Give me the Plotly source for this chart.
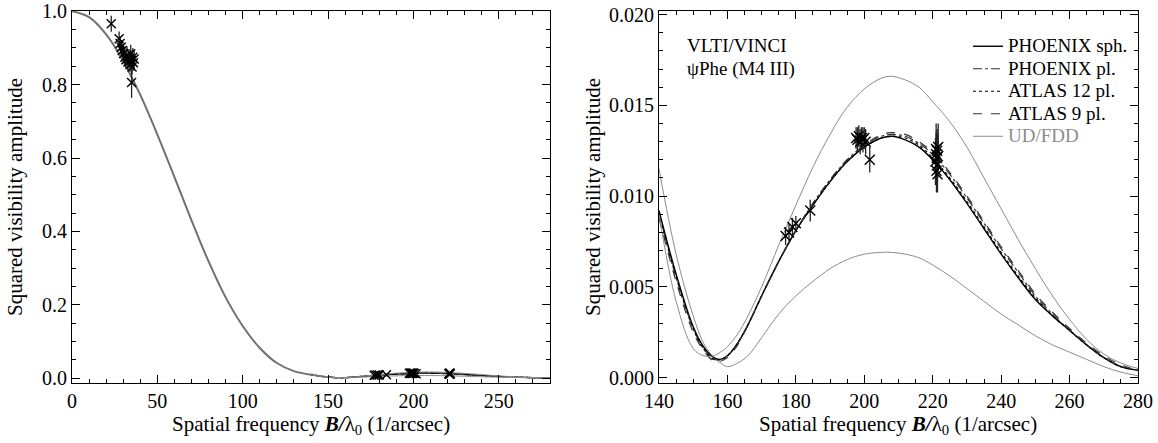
import plotly.graph_objects as go

# ---------------- data ----------------
# main lobe of the visibility curves (all models coincide at this scale)
lobe_freq = [0, 10, 20, 30, 40, 50, 60, 70, 80, 90, 100, 110, 120, 130, 140]
lobe_v2 = [1.000, 0.984, 0.937, 0.864, 0.772, 0.664, 0.548, 0.430, 0.318, 0.220,
           0.142, 0.082, 0.041, 0.019, 0.0092]

# second lobe region
freq = [140, 145, 150, 153, 156, 158, 160, 163, 166, 170, 175, 180, 185, 190, 195, 200,
        205, 208, 212, 216, 220, 225, 230, 235, 240, 245, 250, 255, 260, 265, 270, 275, 280]
phoenix_sph = [0.0092, 0.0057, 0.0028, 0.0017, 0.0011, 0.0010, 0.0012, 0.0019, 0.0029, 0.0045,
               0.0064, 0.0081, 0.0095, 0.0108, 0.0119, 0.0127, 0.0132, 0.0133, 0.0131, 0.0127,
               0.0120, 0.0109, 0.0096, 0.0082, 0.0068, 0.0055, 0.0043, 0.0034, 0.0026, 0.0018,
               0.0011, 0.0006, 0.0004]
phoenix_pl = [0.0090, 0.0055, 0.0027, 0.0016, 0.0010, 0.0010, 0.0012, 0.0019, 0.0029, 0.0045,
              0.0064, 0.0081, 0.0096, 0.0109, 0.0120, 0.0128, 0.0133, 0.0134, 0.0133, 0.0129,
              0.0123, 0.0112, 0.0099, 0.0085, 0.0071, 0.0058, 0.0045, 0.0035, 0.0026, 0.0018,
              0.0011, 0.0006, 0.0004]
atlas12_pl = [0.0091, 0.0056, 0.0027, 0.0016, 0.0010, 0.0010, 0.0012, 0.0019, 0.0029, 0.0045,
              0.0064, 0.0081, 0.0095, 0.0108, 0.0119, 0.0127, 0.0132, 0.0133, 0.0132, 0.0128,
              0.0121, 0.0110, 0.0097, 0.0083, 0.0069, 0.0056, 0.0044, 0.0034, 0.0026, 0.0018,
              0.0011, 0.0006, 0.0004]
atlas9_pl = [0.0088, 0.0053, 0.0025, 0.0015, 0.0009, 0.0009, 0.0011, 0.0018, 0.0029, 0.0045,
             0.0064, 0.0081, 0.0096, 0.0109, 0.0120, 0.0128, 0.0134, 0.0135, 0.0134, 0.0130,
             0.0124, 0.0113, 0.0100, 0.0086, 0.0072, 0.0059, 0.0046, 0.0036, 0.0027, 0.0019,
             0.0012, 0.0007, 0.0004]
ud_v2 = [0.0090, 0.0042, 0.0016, 0.0012, 0.0012, 0.0014, 0.0017, 0.0024, 0.0034, 0.0050,
         0.0073, 0.0095, 0.0116, 0.0134, 0.0149, 0.0159, 0.0165, 0.0166, 0.0164, 0.0160,
         0.0152, 0.0141, 0.0127, 0.0110, 0.0093, 0.0076, 0.0060, 0.0045, 0.0032, 0.0021,
         0.0013, 0.0008, 0.0005]
fdd_v2 = [0.0115, 0.0068, 0.0034, 0.0019, 0.0011, 0.0008, 0.0006, 0.0008, 0.0012, 0.0022,
          0.0035, 0.0045, 0.0053, 0.0060, 0.0065, 0.0068, 0.0069, 0.0069, 0.0068, 0.0066,
          0.0062, 0.0056, 0.0049, 0.0042, 0.0035, 0.0029, 0.0023, 0.0018, 0.0014, 0.0010,
          0.0006, 0.0003, 0.0001]

# measurements, first lobe
obs1_freq = [23.0, 27.6, 28.2, 28.8, 29.4, 30.2, 31.0, 31.6, 32.2, 32.8, 33.4, 34.0,
             34.4, 34.8, 35.2, 35.6, 36.0, 36.4, 34.9]
obs1_v2 = [0.966, 0.925, 0.912, 0.902, 0.893, 0.885, 0.875, 0.868, 0.880, 0.862, 0.872,
           0.855, 0.884, 0.866, 0.848, 0.875, 0.860, 0.870, 0.806]
obs1_err = [0.022, 0.020, 0.020, 0.020, 0.020, 0.022, 0.025, 0.022, 0.025, 0.022, 0.025,
            0.020, 0.025, 0.022, 0.020, 0.025, 0.022, 0.025, 0.042]

# measurements, second lobe
obs2_freq = [177.0, 178.0, 179.0, 180.0, 184.2, 197.6, 198.0, 198.4, 198.8, 199.2, 199.6,
             200.0, 200.4, 201.6, 220.8, 221.0, 221.0, 221.1, 221.2, 221.2, 221.3, 221.4,
             221.5, 221.6]
obs2_v2 = [0.0078, 0.0080, 0.0083, 0.0085, 0.0092, 0.0132, 0.0131, 0.0133, 0.0130, 0.0132,
           0.0131, 0.0132, 0.0130, 0.0120, 0.0119, 0.0123, 0.0126, 0.0114, 0.0121, 0.0117,
           0.0125, 0.0112, 0.0122, 0.0127]
obs2_err = [0.0005, 0.0005, 0.0005, 0.0004, 0.0006, 0.0006, 0.0007, 0.0006, 0.0007, 0.0006,
            0.0007, 0.0006, 0.0007, 0.0007, 0.0013, 0.0012, 0.0014, 0.0012, 0.0013, 0.0011,
            0.0012, 0.0010, 0.0012, 0.0013]

left_xticks = [0, 50, 100, 150, 200, 250]
right_xticks = [140, 160, 180, 200, 220, 240, 260, 280]

# ---------------- figure ----------------
W, H = 1158, 443
FONT = "'Liberation Serif', 'Times New Roman', Times, serif"
TICK_SIZE = 20
TITLE_SIZE = 21
TEXT_SIZE = 19
LEG_SIZE = 15        # sets the legend row pitch
LEG_TEXT_SIZE = 19   # size of the legend labels themselves
fig = go.Figure()

models = [
    ("PHOENIX sph.", phoenix_sph, "black", "solid", 1.4),
    ("PHOENIX pl.", phoenix_pl, "#333333", "dashdot", 1.2),
    ("ATLAS 12 pl.", atlas12_pl, "black", "dot", 1.2),
    ("ATLAS 9 pl.", atlas9_pl, "#333333", "dash", 1.2),
]
GRAY = "#8c8c8c"

def leg_label(text, color="black"):
    return f"<span style='font-size:{LEG_TEXT_SIZE}px;color:{color}'>{text}</span>"

# left panel
fig.add_trace(go.Scatter(x=lobe_freq, y=lobe_v2, mode="lines", line=dict(color="#707070", width=2, shape="spline"),
                         showlegend=False, xaxis="x", yaxis="y", hoverinfo="skip"))
for name, vals, col, dash, w in models:
    fig.add_trace(go.Scatter(x=freq, y=vals, mode="lines", line=dict(color=col, width=w, dash=dash, shape="spline"),
                             showlegend=False, xaxis="x", yaxis="y"))
fig.add_trace(go.Scatter(x=freq, y=ud_v2, mode="lines", line=dict(color=GRAY, width=1, shape="spline"),
                         showlegend=False, xaxis="x", yaxis="y"))
fig.add_trace(go.Scatter(x=freq, y=fdd_v2, mode="lines", line=dict(color=GRAY, width=1, shape="spline"),
                         showlegend=False, xaxis="x", yaxis="y"))
for fx, fy, fe in [(obs1_freq, obs1_v2, obs1_err), (obs2_freq, obs2_v2, obs2_err)]:
    fig.add_trace(go.Scatter(x=fx, y=fy, mode="markers",
                             marker=dict(symbol="x-thin", size=9, line=dict(width=1.4, color="black"), color="black"),
                             error_y=dict(type="data", array=fe, width=0, thickness=1.3, color="#222222"),
                             showlegend=False, xaxis="x", yaxis="y"))

# right panel
fig.add_trace(go.Scatter(x=freq, y=fdd_v2, mode="lines", line=dict(color=GRAY, width=1, shape="spline"),
                         showlegend=False, xaxis="x2", yaxis="y2"))
for name, vals, col, dash, w in models:
    fig.add_trace(go.Scatter(x=freq, y=vals, mode="lines", name=leg_label(name),
                             line=dict(color=col, width=w, dash=dash, shape="spline"),
                             showlegend=True, xaxis="x2", yaxis="y2"))
fig.add_trace(go.Scatter(x=freq, y=ud_v2, mode="lines", name=leg_label("UD/FDD", GRAY),
                         line=dict(color=GRAY, width=1, shape="spline"),
                         showlegend=True, xaxis="x2", yaxis="y2"))
fig.add_trace(go.Scatter(x=obs2_freq, y=obs2_v2, mode="markers",
                         marker=dict(symbol="x-thin", size=10, line=dict(width=1.4, color="black"), color="black"),
                         error_y=dict(type="data", array=obs2_err, width=0, thickness=1.3, color="#222222"),
                         showlegend=False, xaxis="x2", yaxis="y2"))

def px_x(p):
    return p / W

def px_y(p):
    return 1 - p / H

axis_common = dict(showline=True, linecolor="black", linewidth=1, mirror="allticks", ticks="inside",
                   ticklen=8, tickwidth=1, tickcolor="black", showgrid=False, zeroline=False,
                   tickfont=dict(family=FONT, size=TICK_SIZE, color="black"), automargin=False,
                   ticklabeloverflow="allow")

ydom = [px_y(383), px_y(11)]
fig.update_layout(
    width=W, height=H,
    margin=dict(l=0, r=0, t=0, b=0),
    paper_bgcolor="white", plot_bgcolor="white",
    font=dict(family=FONT, size=TICK_SIZE, color="black"),
    xaxis=dict(domain=[px_x(72), px_x(550)], range=[0, 280], tickvals=left_xticks,
               minor=dict(ticks="inside", ticklen=4, dtick=10, tick0=0, tickcolor="black"),
               anchor="y", **axis_common),
    yaxis=dict(domain=ydom, range=[-0.0135, 1.0008], dtick=0.2, tick0=0, tickformat=".1f",
               minor=dict(ticks="inside", ticklen=4, dtick=0.05, tick0=0, tickcolor="black"),
               anchor="x", **axis_common),
    xaxis2=dict(domain=[px_x(659), px_x(1138)], range=[140, 280], tickvals=right_xticks,
                minor=dict(ticks="inside", ticklen=4, dtick=5, tick0=140, tickcolor="black"),
                anchor="y2", **axis_common),
    yaxis2=dict(domain=ydom, range=[-0.0003, 0.0202], dtick=0.005, tick0=0, tickformat=".3f",
                minor=dict(ticks="inside", ticklen=4, dtick=0.001, tick0=0, tickcolor="black"),
                anchor="x2", **axis_common),
    legend=dict(x=px_x(968), xanchor="left", y=px_y(30), yanchor="top",
                bgcolor="rgba(0,0,0,0)", font=dict(family=FONT, size=LEG_SIZE, color="black"),
                itemwidth=30, tracegroupgap=0),
    showlegend=True,
)

xtitle = "Spatial frequency <b><i>B/</i></b>λ<sub>0</sub> (1/arcsec)"
ann = [
    dict(text="Squared visibility amplitude", x=px_x(15), y=px_y(197), textangle=-90),
    dict(text="Squared visibility amplitude", x=px_x(593), y=px_y(197), textangle=-90),
    dict(text=xtitle, x=px_x(311), y=px_y(425)),
    dict(text=xtitle, x=px_x(898), y=px_y(425)),
    dict(text="VLTI/VINCI", x=px_x(685), y=px_y(45), xanchor="left", font=dict(family=FONT, size=TEXT_SIZE)),
    dict(text="ψPhe (M4 III)", x=px_x(685), y=px_y(69), xanchor="left", font=dict(family=FONT, size=TEXT_SIZE)),
]
for a in ann:
    a.setdefault("xanchor", "center")
    a.update(xref="paper", yref="paper", yanchor="middle", showarrow=False)
    a.setdefault("font", dict(family=FONT, size=TITLE_SIZE, color="black"))
fig.update_layout(annotations=ann)

fig.write_html("out.html", config={"displayModeBar": False},
               post_script="document.body.style.margin='0px';")
